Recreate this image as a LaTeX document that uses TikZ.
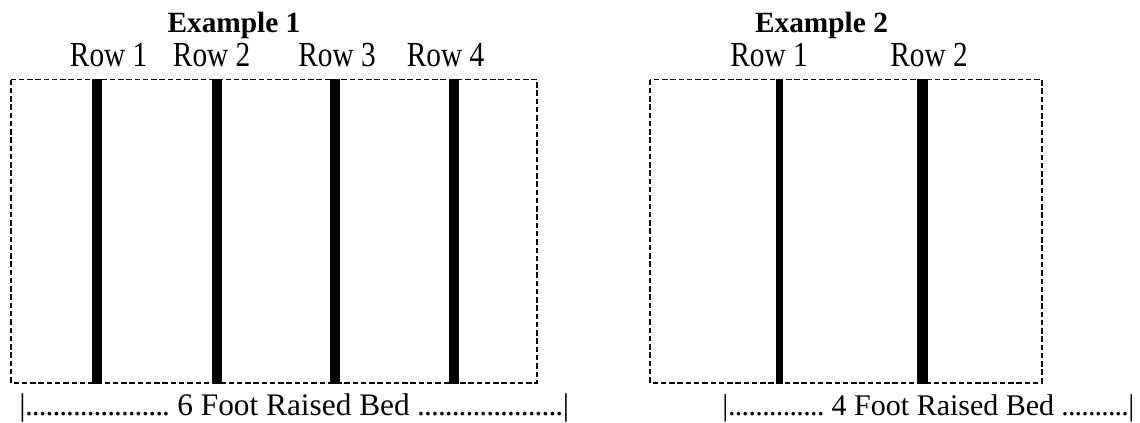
\documentclass[tikz,border=0pt]{standalone}
\usepackage{fontspec}
\usepackage{graphicx}
\setmainfont{Liberation Serif}
\newcommand{\bedfont}{\fontsize{23.5}{27}\selectfont}
\newcommand{\bedfontb}{\fontsize{22.5}{27}\selectfont}
\newcommand{\rowfont}{\fontsize{22}{26}\selectfont}
\newcommand{\titlefont}{\fontsize{22}{26}\selectfont\bfseries}
\newcommand{\dotrun}[1]{\xleaders\hbox to 5pt{\hss.\hss}\hskip #1\relax}
\newcommand{\rowtext}[1]{\scalebox{1}[1.2]{#1}}
\tikzset{
  bedbox/.style={draw=black, line width=1.45pt, dash pattern=on 4.1pt off 2.1pt},
  rowbar/.style={fill=black},
  title/.style={anchor=base, inner sep=0pt, font=\titlefont},
  rowlabel/.style={anchor=base, inner sep=0pt, font=\rowfont},
  bedlabel/.style={anchor=base west, inner sep=0pt}
}
\begin{document}
\begin{tikzpicture}[x=0.75pt,y=-0.75pt]
\useasboundingbox (0,0) rectangle (1140,422);
% Example 1
\node[title] (t1) at (234,32.3) {Example 1};
\node[rowlabel] (r11) at (108.7,66.7) {\rowtext{Row 1}};
\node[rowlabel] (r12) at (211.7,66.7) {\rowtext{Row 2}};
\node[rowlabel] (r13) at (337,66.7) {\rowtext{Row 3}};
\node[rowlabel] (r14) at (445.5,66.7) {\rowtext{Row 4}};
\draw[bedbox] (11,79.5) rectangle (537,382.7);
\fill[rowbar] (91.7,79) rectangle (101.7,384.3);
\fill[rowbar] (211.7,79) rectangle (222.2,384.3);
\fill[rowbar] (329.5,79) rectangle (340,384.3);
\fill[rowbar] (448.5,79) rectangle (459,384.3);
\node[bedlabel, font=\bedfont] (b1) at (19,415) {|\dotrun{108pt} 6 Foot Raised Bed \dotrun{109pt}|};
% Example 2
\node[title] (t2) at (821.5,32.3) {Example 2};
\node[rowlabel] (r21) at (769,66.7) {\rowtext{Row 1}};
\node[rowlabel] (r22) at (929,66.7) {\rowtext{Row 2}};
\draw[bedbox] (650,79.5) rectangle (1041.7,382.7);
\fill[rowbar] (776.3,79) rectangle (783,384.3);
\fill[rowbar] (916.7,79) rectangle (927.8,384.3);
\node[bedlabel, font=\bedfontb] (b2) at (722,415) {|\dotrun{72pt} 4 Foot Raised Bed \dotrun{50pt}|};
\end{tikzpicture}
\end{document}
